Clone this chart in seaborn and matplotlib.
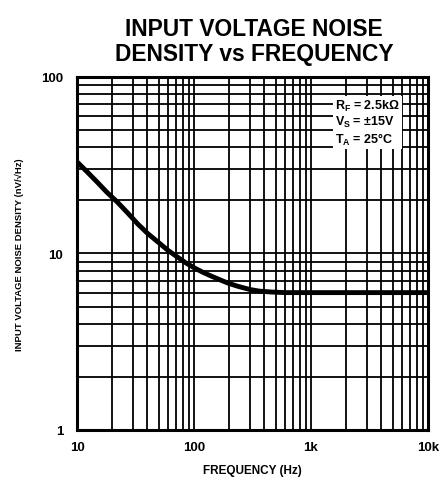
import numpy as np
import pandas as pd
import seaborn as sns
import matplotlib.pyplot as plt
from matplotlib.ticker import FixedLocator, NullFormatter

# Noise curve (Hz, nV/rtHz)
freq = [10, 12, 15, 18, 22, 27, 33, 40, 50, 60, 72, 85, 100, 120, 140, 170, 200,
        240, 300, 360, 450, 600, 800, 1000, 2000, 5000, 10000]
noise = [33, 29.3, 25.2, 22.2, 19.6, 17.0, 14.7, 13.0, 11.5, 10.4, 9.55, 8.85, 8.3,
         7.8, 7.45, 7.05, 6.75, 6.5, 6.25, 6.12, 6.05, 6.0, 6.0, 6.0, 6.0, 6.0, 6.0]

x_ticks = [10, 100, 1000, 10000]
x_labels = ['10', '100', '1k', '10k']
y_ticks = [1, 10, 100]
y_labels = ['1', '10', '100']

df = pd.DataFrame({'freq': freq, 'noise': noise})

sns.set_style('white')
plt.rcParams['font.family'] = ['Liberation Sans', 'DejaVu Sans']
plt.rcParams['font.weight'] = 'bold'
plt.rcParams['text.color'] = 'black'
plt.rcParams['axes.labelcolor'] = 'black'
plt.rcParams['xtick.color'] = 'black'
plt.rcParams['ytick.color'] = 'black'
plt.rcParams['mathtext.fontset'] = 'custom'
plt.rcParams['mathtext.rm'] = 'Liberation Sans:bold'
plt.rcParams['mathtext.it'] = 'Liberation Sans:bold'
plt.rcParams['mathtext.bf'] = 'Liberation Sans:bold'

fig = plt.figure(figsize=(4.43, 4.81), dpi=100)
ax = fig.add_axes([0.174, 0.104, 0.792, 0.734])

sns.lineplot(data=df, x='freq', y='noise', ax=ax, color='black', linewidth=3.5)

ax.set_xscale('log')
ax.set_yscale('log')
ax.set_xlim(10, 10000)
ax.set_ylim(1, 100)

# dense black log grid like the data sheet
minor_x = [m * d for d in [10, 100, 1000] for m in range(2, 10)]
minor_y = [m * d for d in [1, 10] for m in range(2, 10)]
ax.xaxis.set_major_locator(FixedLocator(x_ticks))
ax.yaxis.set_major_locator(FixedLocator(y_ticks))
ax.xaxis.set_minor_locator(FixedLocator(minor_x))
ax.yaxis.set_minor_locator(FixedLocator(minor_y))
ax.xaxis.set_minor_formatter(NullFormatter())
ax.yaxis.set_minor_formatter(NullFormatter())
ax.set_xticklabels(x_labels)
ax.set_yticklabels(y_labels)
ax.grid(True, which='both', color='black', linewidth=1.3)
ax.tick_params(which='both', length=0, labelsize=9.5)
ax.tick_params(axis='x', pad=8)
ax.tick_params(axis='y', pad=10)
for s in ax.spines.values():
    s.set_linewidth(2.2)
    s.set_color('black')

ax.set_xlabel('FREQUENCY (Hz)', fontsize=8.5, fontweight='bold', labelpad=8)
ax.set_ylabel('INPUT VOLTAGE NOISE DENSITY (nV/√Hz)', fontsize=6.8,
              fontweight='bold', labelpad=12)
for lab in ax.get_xticklabels() + ax.get_yticklabels():
    lab.set_fontweight('bold')

fig.text(0.573, 0.962, 'INPUT VOLTAGE NOISE\nDENSITY vs FREQUENCY', ha='center', va='top',
         fontsize=16.4, fontweight='bold', linespacing=1.1)

ax.text(0.735, 0.94, '$R_F$ = 2.5kΩ\n$V_S$ = ±15V\n$T_A$ = 25°C', transform=ax.transAxes,
        ha='left', va='top', fontsize=9, fontweight='bold', linespacing=1.1,
        bbox=dict(facecolor='white', edgecolor='none', pad=1.5))

fig.savefig('out.png', dpi=100)
